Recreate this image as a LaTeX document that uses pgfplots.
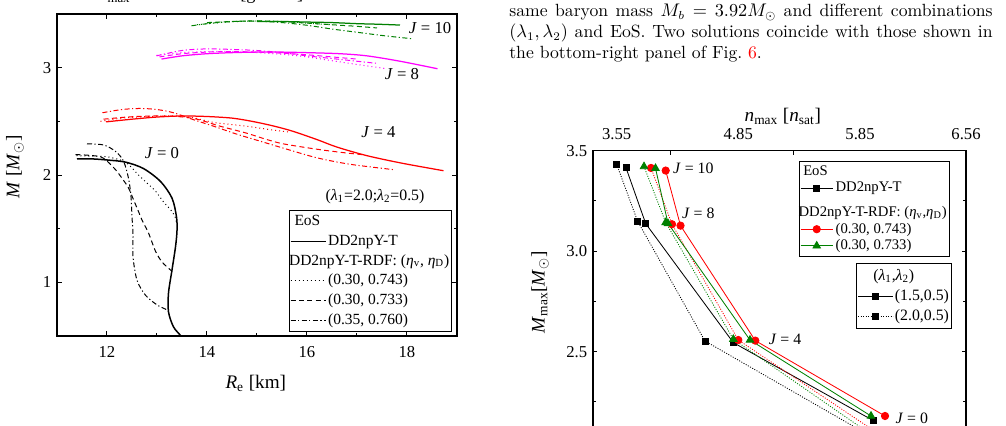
\documentclass[border=0pt]{standalone}
\usepackage{fontspec}
\usepackage{pgfplots}
\pgfplotsset{compat=1.18}
\newfontfamily\tnr{Liberation Serif}
\newcommand{\fs}[1]{\fontsize{#1}{#1}\selectfont}
\definecolor{cgreen}{RGB}{0,128,0}
\definecolor{cmag}{RGB}{255,0,255}
\definecolor{cred}{RGB}{255,0,0}
\tikzset{
  lsolid/.style={line width=0.75pt},
  ldot/.style={line width=0.6pt, dash pattern=on 0.6pt off 1.8pt},
  ldash/.style={line width=0.6pt, dash pattern=on 3pt off 2pt},
  ldashdot/.style={line width=0.6pt, dash pattern=on 3pt off 1.5pt on 0.7pt off 1.5pt},
  rdot/.style={line width=0.5pt, dash pattern=on 0.6pt off 0.9pt},
}
\begin{document}
\begin{tikzpicture}
\useasboundingbox (0pt,0pt) rectangle (603.6pt,255pt);
\clip (0pt,0pt) rectangle (603.6pt,255pt);
% ---- paragraph text
\node[anchor=base west,inner sep=0pt,font=\fontsize{10.6}{12.5}\selectfont] at (305.4pt,245pt) {\hbox to 290pt{same baryon mass $M_b = 3.92M_\odot$ and different combinations}};
\node[anchor=base west,inner sep=0pt,font=\fontsize{10.6}{12.5}\selectfont] at (305.4pt,232.4pt) {\hbox to 290pt{$(\lambda_1, \lambda_2)$ and EoS. Two solutions coincide with those shown in}};
\node[anchor=base west,inner sep=0pt,font=\fontsize{10.6}{12.5}\selectfont] at (305.4pt,220pt) {the bottom-right panel of Fig.~\textcolor{red}{6}.};
% ---- cut top label of left panel
\node[anchor=base west,inner sep=0pt,font=\tnr\fs{11}] at (60pt,255.4pt) {\textit{ε}\textsubscript{max}};
\node[anchor=base west,inner sep=0pt,font=\tnr\fs{11}] at (94.2pt,255.4pt) {/ 10\textsuperscript{15}};
\node[anchor=base west,inner sep=0pt,font=\tnr\fs{11}] at (144pt,255.4pt) {[g cm\textsuperscript{−3}]};

% ================= LEFT PANEL
\begin{axis}[
  at={(34.2pt,53.4pt)}, anchor=south west, scale only axis,
  width=240pt, height=193.2pt,
  xmin=11, xmax=19, ymin=0.5, ymax=3.5,
  xtick={12,14,16,18}, ytick={1,2,3},
  minor x tick num=1, minor y tick num=1,
  tick align=inside, major tick length=3pt, minor tick length=1.8pt,
  every tick/.style={black, line width=0.6pt},
  axis line style={line width=0.8pt},
  tick label style={font=\tnr\fs{10}},
  /pgf/number format/assume math mode=true,
  xticklabel style={yshift=-3pt},
  xlabel={\textit{R}\textsubscript{e} [km]},
  ylabel={\textit{M} [\textit{M}$_\odot$]},
  xlabel style={at={(axis description cs:0.497,-0.147)}, anchor=center, font=\tnr\fs{11.5}},
  ylabel style={at={(axis description cs:-0.105,0.525)}, anchor=center, font=\tnr\fs{11.5}},
  legend image code/.code={\draw[#1] (0pt,0pt) -- (21pt,0pt);},
  legend cell align=left,
  legend style={at={(rel axis cs:0.987,0.0115)}, anchor=south east,
    draw=black, line width=0.6pt, fill=white, font=\tnr\fs{9.3},
    inner xsep=0pt, inner ysep=1.5pt, row sep=1.6pt,
    nodes={inner sep=1.2pt, text depth=0.15em}},
]
% J=0 black
\addplot[forget plot, black, line width=0.9pt, smooth] coordinates {(11.4,2.15)(11.7,2.15)(12.0,2.14)(12.37,2.12)(12.73,2.06)(13.07,1.94)(13.3,1.785)(13.39,1.61)(13.4,1.48)(13.37,1.33)(13.3,1.115)(13.23,0.90)(13.23,0.725)(13.33,0.585)(13.48,0.5)(13.55,0.45)};
\addplot[forget plot, black, ldot, smooth] coordinates {(11.39,2.18)(11.7,2.175)(12.0,2.17)(12.37,2.12)(12.63,2.0)(12.8,1.925)(12.97,1.85)(13.13,1.75)(13.3,1.66)(13.37,1.6)(13.39,1.55)};
\addplot[forget plot, black, ldash, smooth] coordinates {(11.37,2.19)(11.6,2.185)(11.87,2.17)(12.0,2.13)(12.17,2.05)(12.3,1.97)(12.43,1.88)(12.53,1.77)(12.63,1.66)(12.7,1.58)(12.83,1.46)(12.97,1.29)(13.1,1.19)(13.27,1.115)(13.3,1.1)};
\addplot[forget plot, black, ldashdot, smooth] coordinates {(11.6,2.29)(11.93,2.28)(12.17,2.22)(12.33,2.13)(12.43,1.97)(12.48,1.8)(12.5,1.61)(12.52,1.45)(12.52,1.24)(12.6,1.02)(12.77,0.88)(13.0,0.79)(13.17,0.75)(13.23,0.73)};
% J=4 red
\addplot[forget plot, cred, lsolid, smooth] coordinates {(11.98,2.495)(12.5,2.52)(13.0,2.54)(13.5,2.55)(14.0,2.545)(14.5,2.53)(14.9,2.50)(15.3,2.46)(15.7,2.41)(16.2,2.33)(16.6,2.26)(17.2,2.18)(17.9,2.11)(18.73,2.04)};
\addplot[forget plot, cred, ldot, smooth] coordinates {(11.87,2.50)(12.3,2.53)(12.8,2.545)(13.3,2.55)(13.7,2.535)(14.13,2.49)(14.5,2.47)(14.86,2.45)(15.3,2.42)(15.66,2.40)};
\addplot[forget plot, cred, ldash, smooth] coordinates {(11.93,2.52)(12.4,2.54)(12.9,2.55)(13.4,2.545)(13.8,2.52)(14.26,2.455)(14.79,2.39)(15.2,2.33)(15.53,2.29)(16.2,2.24)(16.7,2.21)(17.1,2.19)};
\addplot[forget plot, cred, ldashdot, smooth] coordinates {(11.91,2.58)(12.3,2.61)(12.66,2.62)(13.0,2.61)(13.33,2.58)(13.7,2.52)(14.13,2.455)(14.6,2.38)(15.1,2.31)(15.6,2.24)(16.2,2.16)(16.86,2.10)(17.73,2.05)};
% J=8 magenta
\addplot[forget plot, cmag, lsolid, smooth] coordinates {(13.09,3.08)(13.5,3.11)(14.0,3.13)(14.5,3.14)(15.0,3.145)(15.5,3.145)(16.0,3.14)(16.66,3.13)(17.2,3.11)(17.86,3.06)(18.61,2.99)};
\addplot[forget plot, cmag, ldot, smooth] coordinates {(12.99,3.115)(13.5,3.14)(14.0,3.15)(14.5,3.15)(15.0,3.14)(15.5,3.125)(16.0,3.10)(16.5,3.065)(17.0,3.03)(17.6,2.99)};
\addplot[forget plot, cmag, ldash, smooth] coordinates {(13.05,3.10)(13.5,3.13)(14.0,3.145)(14.5,3.15)(15.0,3.145)(15.5,3.135)(16.0,3.12)(16.5,3.10)(17.0,3.08)};
\addplot[forget plot, cmag, ldashdot, smooth] coordinates {(12.99,3.11)(13.5,3.16)(14.0,3.175)(14.5,3.17)(15.0,3.16)(15.5,3.14)(16.0,3.11)(16.5,3.085)(17.0,3.06)(17.4,3.04)};
% J=10 green
\addplot[forget plot, cgreen, lsolid, smooth] coordinates {(15.0,3.43)(15.5,3.43)(16.0,3.425)(16.5,3.42)(17.0,3.41)(17.4,3.405)(17.86,3.397)};
\addplot[forget plot, cgreen, ldash, smooth] coordinates {(14.0,3.42)(14.5,3.43)(15.0,3.435)(15.5,3.43)(16.0,3.415)(16.5,3.40)(17.0,3.385)(17.4,3.37)};
\addplot[forget plot, cgreen, ldot, smooth] coordinates {(13.8,3.40)(14.4,3.425)(15.0,3.435)(15.5,3.43)(16.0,3.415)(16.5,3.40)};
\addplot[forget plot, cgreen, ldashdot, smooth] coordinates {(13.69,3.39)(14.2,3.42)(14.86,3.435)(15.5,3.42)(16.0,3.395)(16.5,3.36)(17.0,3.33)(17.5,3.30)(18.09,3.27)};
% labels
\node[font=\tnr\fs{10}] at (axis cs:13.1,2.2) {\textit{J} = 0};
\node[font=\tnr\fs{10}] at (axis cs:17.43,2.40) {\textit{J} = 4};
\node[font=\tnr\fs{10}] at (axis cs:17.9,2.94) {\textit{J} = 8};
\node[font=\tnr\fs{10}] at (axis cs:18.46,3.37) {\textit{J} = 10};
\node[font=\tnr\fs{9.5}] at (axis cs:17.36,1.8) {(\textit{λ}\textsubscript{1}=2.0;\textit{λ}\textsubscript{2}=0.5)};
% legend
\addlegendimage{empty legend}\addlegendentry{\hspace*{-23.4pt}EoS}
\addlegendimage{black, line width=0.7pt}\addlegendentry{DD2npY-T}
\addlegendimage{empty legend}\addlegendentry{\hspace*{-23.4pt}DD2npY-T-RDF: (\textit{η}\textsubscript{v}, \textit{η}\textsubscript{D})}
\addlegendimage{black, ldot}\addlegendentry{(0.30, 0.743)}
\addlegendimage{black, ldash}\addlegendentry{(0.30, 0.733)}
\addlegendimage{black, ldashdot}\addlegendentry{(0.35, 0.760)}
\end{axis}

% ================= RIGHT PANEL
\begin{axis}[
  at={(355.8pt,-16.3pt)}, anchor=south west, scale only axis,
  width=223.8pt, height=180.9pt,
  xmin=0, xmax=373, ymin=2, ymax=3.5,
  xtick={77,200}, xticklabels={},
  ytick={2,2.5,3,3.5}, minor y tick num=1,
  yticklabel style={/pgf/number format/.cd, fixed, fixed zerofill, precision=1},
  tick align=inside, major tick length=2.6pt, minor tick length=1.6pt,
  every tick/.style={black, line width=0.6pt},
  axis line style={line width=0.8pt},
  tick label style={font=\tnr\fs{10}},
  /pgf/number format/assume math mode=true,
  ylabel={\textit{M}\textsubscript{max}[\textit{M}$_\odot$]},
  ylabel style={at={(axis description cs:-0.142,0.531)}, anchor=center, font=\tnr\fs{11.5}},
  legend image code/.code={\draw[mark repeat=2,mark phase=2,#1] plot coordinates {(0pt,0pt) (9.6pt,0pt) (19.2pt,0pt)};},
  legend cell align=left,
  legend style={at={(rel axis cs:0.957,0.967)}, anchor=north east,
    draw=black, line width=0.6pt, fill=white, font=\tnr\fs{8.8},
    inner xsep=0.2pt, inner ysep=2.7pt, row sep=2.4pt,
    nodes={inner xsep=1.5pt, inner ysep=0pt, text depth=0.15em}},
]
\addplot[forget plot, black, rdot, mark=square*, mark size=1.8pt, mark options={solid}] coordinates {(23.7,3.432)(44.5,3.150)(112,2.553)(274,2.09)};
\addplot[forget plot, black, line width=0.5pt, mark=square*, mark size=1.8pt] coordinates {(33,3.415)(52.7,3.137)(140.3,2.545)(280.3,2.157)};
\addplot[forget plot, cred, rdot, mark=*, mark size=2.2pt, mark options={solid}] coordinates {(58,3.414)(79,3.134)(145.3,2.558)(283,2.10)};
\addplot[forget plot, cred, line width=0.5pt, mark=*, mark size=2.2pt] coordinates {(72.7,3.401)(87.5,3.127)(162.3,2.555)(292,2.18)};
\addplot[forget plot, cgreen, rdot, mark=triangle*, mark size=2.6pt, mark options={solid}] coordinates {(51,3.421)(72.7,3.143)(140.3,2.562)(276,2.095)};
\addplot[forget plot, cgreen, line width=0.5pt, mark=triangle*, mark size=2.6pt] coordinates {(62.5,3.412)(75,3.138)(157,2.558)(278,2.18)};
\node[font=\tnr\fs{9.5}] at (axis cs:100.3,3.412) {\textit{J} = 10};
\node[font=\tnr\fs{9.5}] at (axis cs:105.3,3.188) {\textit{J} = 8};
\node[font=\tnr\fs{9.5}] at (axis cs:192,2.563) {\textit{J} = 4};
\node[font=\tnr\fs{9.5}] at (axis cs:318.7,2.17) {\textit{J} = 0};
\addlegendimage{empty legend}\addlegendentry{\hspace*{-22.2pt}EoS}
\addlegendimage{black, line width=0.5pt, mark=square*, mark size=1.8pt}\addlegendentry{DD2npY-T}
\addlegendimage{empty legend}\addlegendentry{\hspace*{-22.2pt}\rule{0pt}{11pt}DD2npY-T-RDF: (\textit{η}\textsubscript{v},\textit{η}\textsubscript{D})}
\addlegendimage{cred, line width=0.5pt, mark=*, mark size=2.2pt}\addlegendentry{(0.30, 0.743)}
\addlegendimage{cgreen, line width=0.5pt, mark=triangle*, mark size=2.6pt}\addlegendentry{(0.30, 0.733)}
\end{axis}

% top axis + second legend
\begin{axis}[
  at={(355.8pt,-16.3pt)}, anchor=south west, scale only axis,
  width=223.8pt, height=180.9pt,
  xmin=0, xmax=373, ymin=2, ymax=3.5,
  axis x line*=top, axis y line=none,
  axis line style={draw=none},
  xtick={23.7,145.3,267,373}, xticklabels={3.55,4.85,5.85,6.56},
  major tick length=0pt,
  tick label style={font=\tnr\fs{10}},
  xticklabel style={yshift=3pt},
  /pgf/number format/assume math mode=true,
  xlabel={\textit{n}\textsubscript{max} [\textit{n}\textsubscript{sat}]},
  xlabel style={at={(axis description cs:0.509,1.112)}, anchor=center, font=\tnr\fs{11.5}},
  legend image code/.code={\draw[mark repeat=2,mark phase=2,#1] plot coordinates {(0pt,0pt) (10.5pt,0pt) (21pt,0pt)};},
  legend cell align=left,
  legend style={at={(rel axis cs:0.962,0.628)}, anchor=north east,
    draw=black, line width=0.6pt, fill=white, font=\tnr\fs{9.5},
    inner xsep=0.5pt, inner ysep=3.5pt, row sep=4pt,
    nodes={inner xsep=0.9pt, inner ysep=0pt, text depth=0.15em}},
]
\addlegendimage{empty legend}\addlegendentry{\hspace*{-13pt}(\textit{λ}\textsubscript{1},\textit{λ}\textsubscript{2})}
\addlegendimage{black, line width=0.5pt, mark=square*, mark size=1.8pt}\addlegendentry{(1.5,0.5)}
\addlegendimage{black, rdot, mark=square*, mark size=1.8pt, mark options={solid}}\addlegendentry{(2.0,0.5)}
\end{axis}
\end{tikzpicture}
\end{document}
